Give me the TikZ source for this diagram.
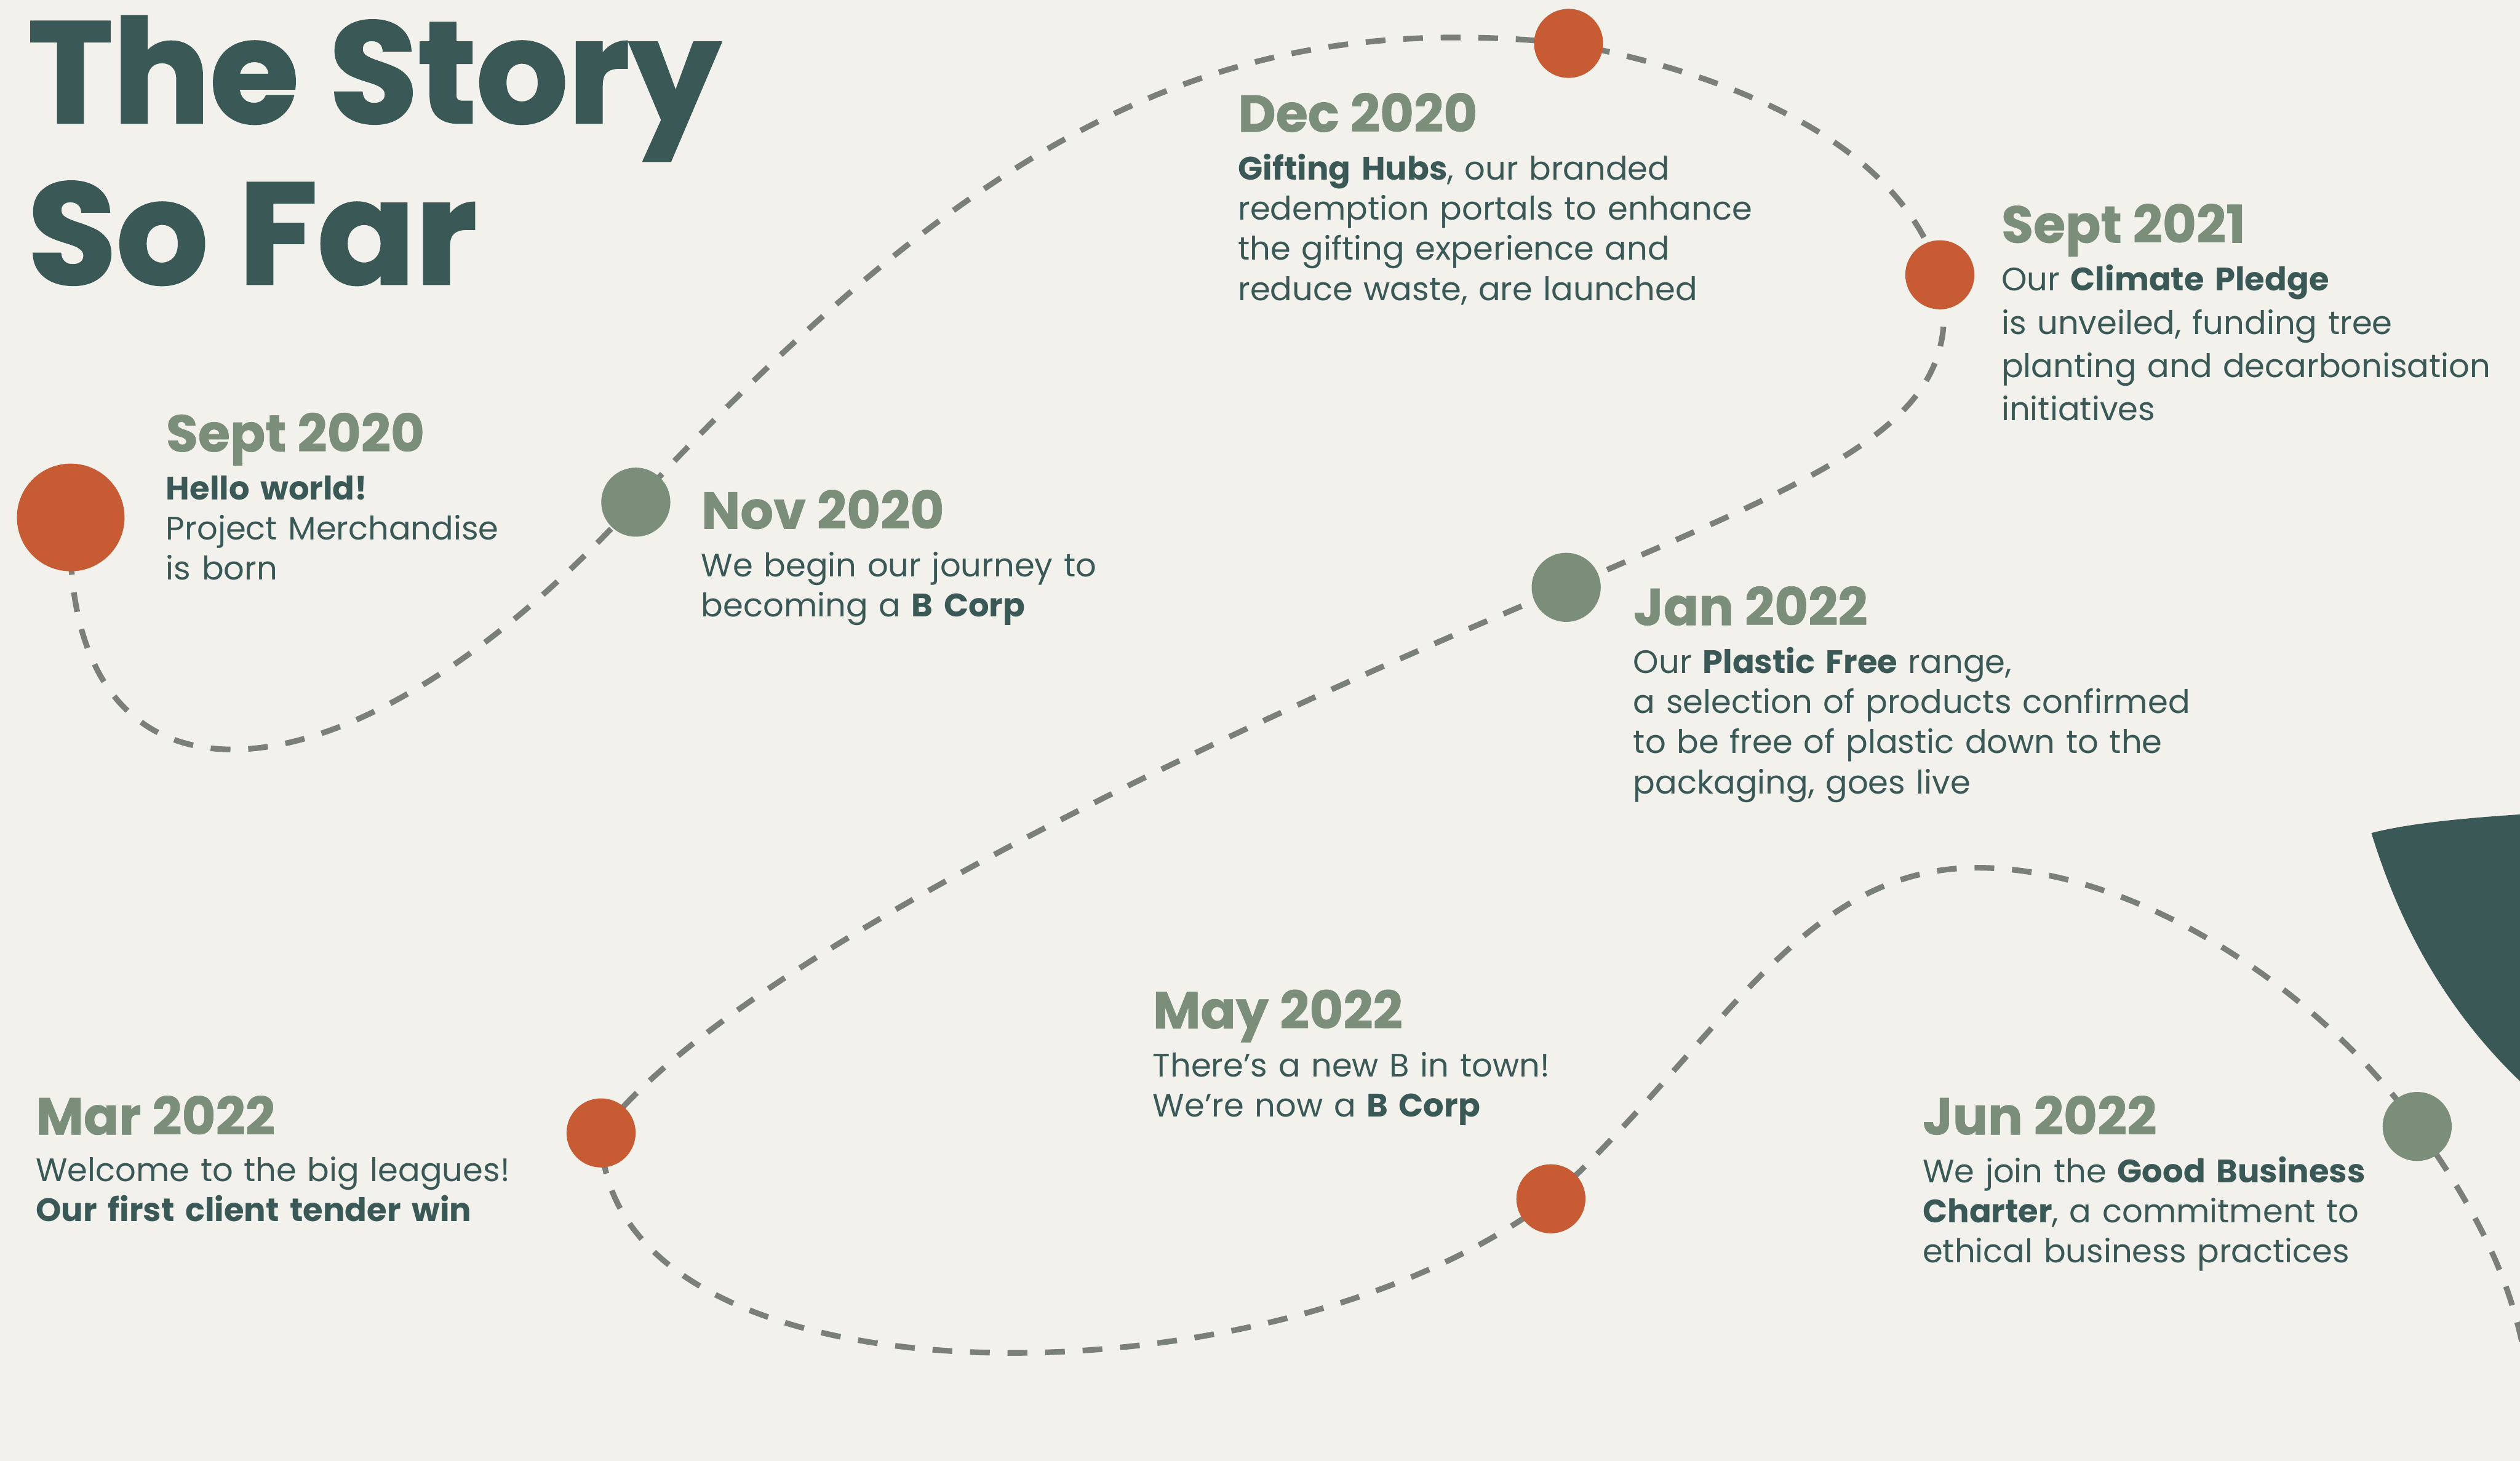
\documentclass[tikz,border=0pt]{standalone}
\usepackage{fontspec}
\setmainfont{Poppins}
\usetikzlibrary{backgrounds}

\definecolor{paper}{HTML}{F2F1EC}
\definecolor{pine}{HTML}{3A5856}
\definecolor{sage}{HTML}{7A8E7A}
\definecolor{rust}{HTML}{C65B34}
\definecolor{trailgrey}{HTML}{7A8079}

\begin{document}
\begin{tikzpicture}[x=0.02cm, y=-0.02cm,
  title/.style={anchor=base west, inner sep=0, text=pine, font=\fontsize{51}{56}\selectfont\bfseries\addfontfeatures{FakeBold=1.6}},
  when/.style={anchor=base west, inner sep=0, text=sage, font=\fontsize{18.4}{20}\selectfont\bfseries\addfontfeatures{FakeBold=0.8}},
  blurb/.style={anchor=base west, inner sep=0, text=pine, text width=9cm, align=left, font=\fontsize{11.5}{14.2}\selectfont},
  dot/.style={circle, fill=#1, inner sep=0, minimum size=0.86cm},
  trail/.style={trailgrey, line width=2pt, dash pattern=on 7pt off 6.3pt}]
  \useasboundingbox (0,0) rectangle (1568,909);

  % heading
  \node[title] (story) at (17,76.4) {The Story};
  \node[title] (sofar) at (17,176.7) {So Far};

  % dark shape on the right edge
  \fill[pine] (1475.5,518.4) .. controls (1500,512) and (1540,508) .. (1600,505)
    -- (1600,700) .. controls (1520,640) and (1490,565) .. (1475.5,518.4) -- cycle;

  % milestones
  \node[dot=rust, minimum size=1.34cm] (c1) at (44,322) {};
  \node[dot=sage] (c2) at (395.6,312.5) {};
  \node[dot=rust] (c3) at (976,27) {};
  \node[dot=rust] (c4) at (1207,171) {};
  \node[dot=sage] (c5) at (974.5,365.5) {};
  \node[dot=rust] (c6) at (374,705) {};
  \node[dot=rust] (c7) at (965,746) {};
  \node[dot=sage] (c8) at (1504,701) {};
  \coordinate (crest) at (1230,540);
  \coordinate (exit) at (1578,912);

  % labels
  \node[when] (d1) at (103,281) {Sept 2020};
  \node[blurb] (b1) at (103,311) {\textbf{Hello world!}\\Project Merchandise\\is born};

  \node[when] (d2) at (436,329) {Nov 2020};
  \node[blurb] (b2) at (436,359) {We begin our journey to\\becoming a \textbf{B Corp}};

  \node[when] (d3) at (770,82) {Dec 2020};
  \node[blurb] (b3) at (770,112) {\textbf{Gifting Hubs}, our branded\\redemption portals to enhance\\the gifting experience and\\reduce waste, are launched};

  \node[when] (d4) at (1245,151) {Sept 2021};
  \node[blurb, font=\fontsize{11.5}{15.3}\selectfont] (b4) at (1245,181) {Our \textbf{Climate Pledge}\\is unveiled, funding tree\\planting and decarbonisation\\initiatives};

  \node[when] (d5) at (1016,389) {Jan 2022};
  \node[blurb] (b5) at (1016,419) {Our \textbf{Plastic Free} range,\\a selection of products confirmed\\to be free of plastic down to the\\packaging, goes live};

  \node[when] (d6) at (22,706) {Mar 2022};
  \node[blurb] (b6) at (22,735) {Welcome to the big leagues!\\\textbf{Our first client tender win}};

  \node[when] (d7) at (717,640) {May 2022};
  \node[blurb] (b7) at (717,670) {There’s a new B in town!\\We’re now a \textbf{B Corp}};

  \node[when] (d8) at (1196,706) {Jun 2022};
  \node[blurb] (b8) at (1196,736) {We join the \textbf{Good Business}\\\textbf{Charter}, a commitment to\\ethical business practices};

  % dashed route behind the dots
  \begin{pgfonlayer}{background}
    \fill[paper] (0,0) rectangle (1568,909);
    \clip (0,0) rectangle (1568,909);
    \draw[trail] (c1.center)
      .. controls (36,520) and (215,512) .. (c2.center)
      .. controls (625,64) and (776,7) .. (c3.center)
      .. controls (1070,45) and (1180,85) .. (c4.center)
      .. controls (1225,260) and (1150,290) .. (c5.center)
      .. controls (725,470) and (450,605) .. (c6.center)
      .. controls (375,880) and (790,880) .. (c7.center)
      .. controls (1070,650) and (1120,540) .. (crest)
      .. controls (1330,540) and (1444,617) .. (c8.center)
      .. controls (1560,780) and (1575,830) .. (exit);
  \end{pgfonlayer}
\end{tikzpicture}
\end{document}
